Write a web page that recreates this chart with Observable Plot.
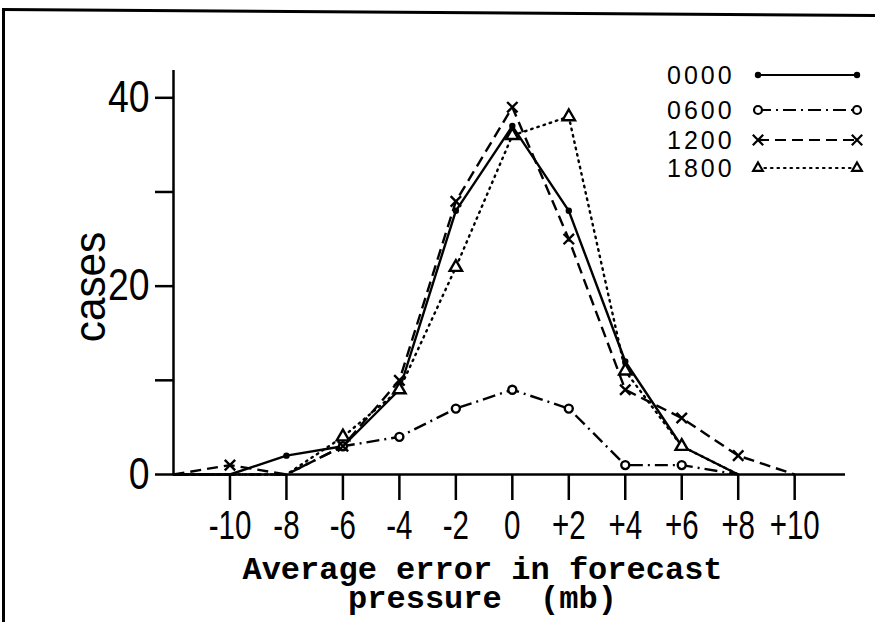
<!DOCTYPE html>
<html><head><meta charset="utf-8">
<script src="https://cdn.jsdelivr.net/npm/d3@7"></script>
<script src="https://cdn.jsdelivr.net/npm/@observablehq/plot@0.6"></script>
<style>
body{margin:0;background:#fff}
#wrap{position:relative;width:875px;height:622px;overflow:hidden;background:#fff}
#wrap svg{position:absolute;left:0;top:0}
.frameTop{position:absolute;left:2px;top:8px;width:885px;height:3px;background:#000;transform-origin:0 0;transform:rotate(0.4deg)}
.frameLeft{position:absolute;left:2px;top:8px;width:3px;height:620px;background:#000}
.ylab{position:absolute;left:89px;top:287px;transform:translate(-50%,-50%) rotate(-90deg) scale(0.94,1);font:45px "Liberation Sans",Arial,sans-serif;line-height:45px;color:#000;white-space:nowrap}
.xlab{position:absolute;left:0;width:965px;top:556px;text-align:center;font:bold 32px "Liberation Mono","DejaVu Sans Mono",monospace;line-height:29px;color:#000;white-space:pre}
</style></head><body><div id="wrap"></div>
<script>
// ---- data ----
const errors   = [-12, -10, -8, -6, -4, -2, 0, 2, 4, 6, 8, 10];
const series   = ["0000", "0600", "1200", "1800"];
const cases0000 = [0, 0, 2, 3, 9, 28, 37, 28, 12, 3, 0, null];
const cases0600 = [0, 0, 0, 3, 4, 7, 9, 7, 1, 1, 0, null];
const cases1200 = [0, 1, 0, 3, 10, 29, 39, 25, 9, 6, 2, 0];
const cases1800 = [0, 0, 0, 4, 9, 22, 36, 38, 11, 3, 0, null];
const xTicks = [-10, -8, -6, -4, -2, 0, 2, 4, 6, 8, 10];
const yTicks = [0, 10, 20, 30, 40];
const yTickLabels = ["0", "", "20", "", "40"];
const xTitle = ["Average error in forecast", "pressure  (mb)"];
const yTitle = "cases";

const valuesBySeries = [cases0000, cases0600, cases1200, cases1800];
const styles = {
  "0000": {dash: null, symbol: "circle", fill: "black", r: 3.2},
  "0600": {dash: "13,5,2,5", symbol: "circle", fill: "white", r: 4},
  "1200": {dash: "11,6", symbol: "times", fill: "none", r: 4.8},
  "1800": {dash: "1.5,5", symbol: "triangle", fill: "white", r: 4.6}
};

const rows = [];
series.forEach((s, k) => valuesBySeries[k].forEach((v, i) => {
  if (v !== null) rows.push({series: s, error: errors[i], cases: v});
}));

const tickFont = `"Liberation Sans",Arial,sans-serif`;

const marks = [
  Plot.ruleX([-12], {y1: 0, y2: 42.9, stroke: "black", strokeWidth: 2.5}),
  Plot.ruleY([0], {x1: -12, x2: 11.8, stroke: "black", strokeWidth: 2.5}),
  Plot.axisX({ticks: xTicks, tickSize: 26, tickPadding: 9, strokeWidth: 2.5,
    tickFormat: d => d > 0 ? "+" + d : d < 0 ? "-" + (-d) : "0",
    fontSize: 41, fontFamily: tickFont, label: null}),
  Plot.axisY({ticks: yTicks, tickSize: 18, tickPadding: 6, strokeWidth: 2.5,
    tickFormat: d => yTickLabels[yTicks.indexOf(d)],
    fontSize: 44, fontFamily: tickFont, label: null})
];
for (const s of series) {
  const st = styles[s];
  const data = rows.filter(d => d.series === s);
  marks.push(Plot.line(data, {x: "error", y: "cases", stroke: "black", strokeWidth: 2.4,
    strokeDasharray: st.dash, strokeLinecap: s === "1800" ? "round" : "butt"}));
}
for (const s of series) {
  const st = styles[s];
  const data = rows.filter(d => d.series === s && d.cases > 0);
  marks.push(Plot.dot(data, {x: "error", y: "cases", symbol: st.symbol, r: st.r,
    fill: st.fill, stroke: "black", strokeWidth: s === "0000" ? 0 : 2.4}));
}

const chart = Plot.plot({
  width: 875, height: 622,
  marginLeft: 173, marginRight: 30, marginTop: 70, marginBottom: 148,
  x: {domain: [-12, 11.8]},
  y: {domain: [0, 42.9]},
  style: {background: "white", color: "black"},
  marks
});

// condense the tick labels horizontally (narrow DIN-like lettering in the original)
function condense(sel, sx) {
  chart.querySelectorAll(sel).forEach(t => {
    let tr = t.getAttribute("transform");
    if (!tr) {
      const x = +(t.getAttribute("x") || 0), y = +(t.getAttribute("y") || 0);
      t.removeAttribute("x"); t.removeAttribute("y");
      tr = `translate(${x},${y})`;
    }
    t.setAttribute("transform", tr + ` scale(${sx},1)`);
  });
}
condense('g[aria-label="x-axis tick label"] text', 0.72);
condense('g[aria-label="y-axis tick label"] text', 0.85);

const wrap = document.getElementById("wrap");
wrap.appendChild(chart);

// frame lines of the scanned page
const ft = document.createElement("div"); ft.className = "frameTop"; wrap.appendChild(ft);
const fl = document.createElement("div"); fl.className = "frameLeft"; wrap.appendChild(fl);

// axis titles
const yl = document.createElement("div"); yl.className = "ylab"; yl.textContent = yTitle; wrap.appendChild(yl);
const xl = document.createElement("div"); xl.className = "xlab"; xl.textContent = xTitle.join("\n"); wrap.appendChild(xl);

// legend
const rowY = [20, 55, 85, 113];
const lg = d3.select(wrap).append("svg")
  .attr("width", 235).attr("height", 135)
  .style("left", "640px").style("top", "55px");
series.forEach((s, k) => {
  const st = styles[s];
  const g = lg.append("g").attr("transform", `translate(0,${rowY[k]})`);
  g.append("text").attr("x", 27).attr("dy", "0.36em")
    .style("font", `25px "Liberation Sans",Arial,sans-serif`).style("letter-spacing", "3px")
    .text(s);
  g.append("line").attr("x1", 118).attr("x2", 217).attr("stroke", "black")
    .attr("stroke-width", 2.2).attr("stroke-dasharray", st.dash)
    .attr("stroke-linecap", s === "1800" ? "round" : "butt");
  const sym = d3.symbol(st.symbol === "circle" ? d3.symbolCircle :
                        st.symbol === "times" ? d3.symbolTimes : d3.symbolTriangle2,
                        Math.PI * st.r * st.r);
  for (const x of [118, 217]) {
    g.append("path").attr("d", sym()).attr("transform", `translate(${x},0)`)
      .attr("fill", st.fill).attr("stroke", "black")
      .attr("stroke-width", s === "0000" ? 0 : 2.2);
  }
});
</script></body></html>
